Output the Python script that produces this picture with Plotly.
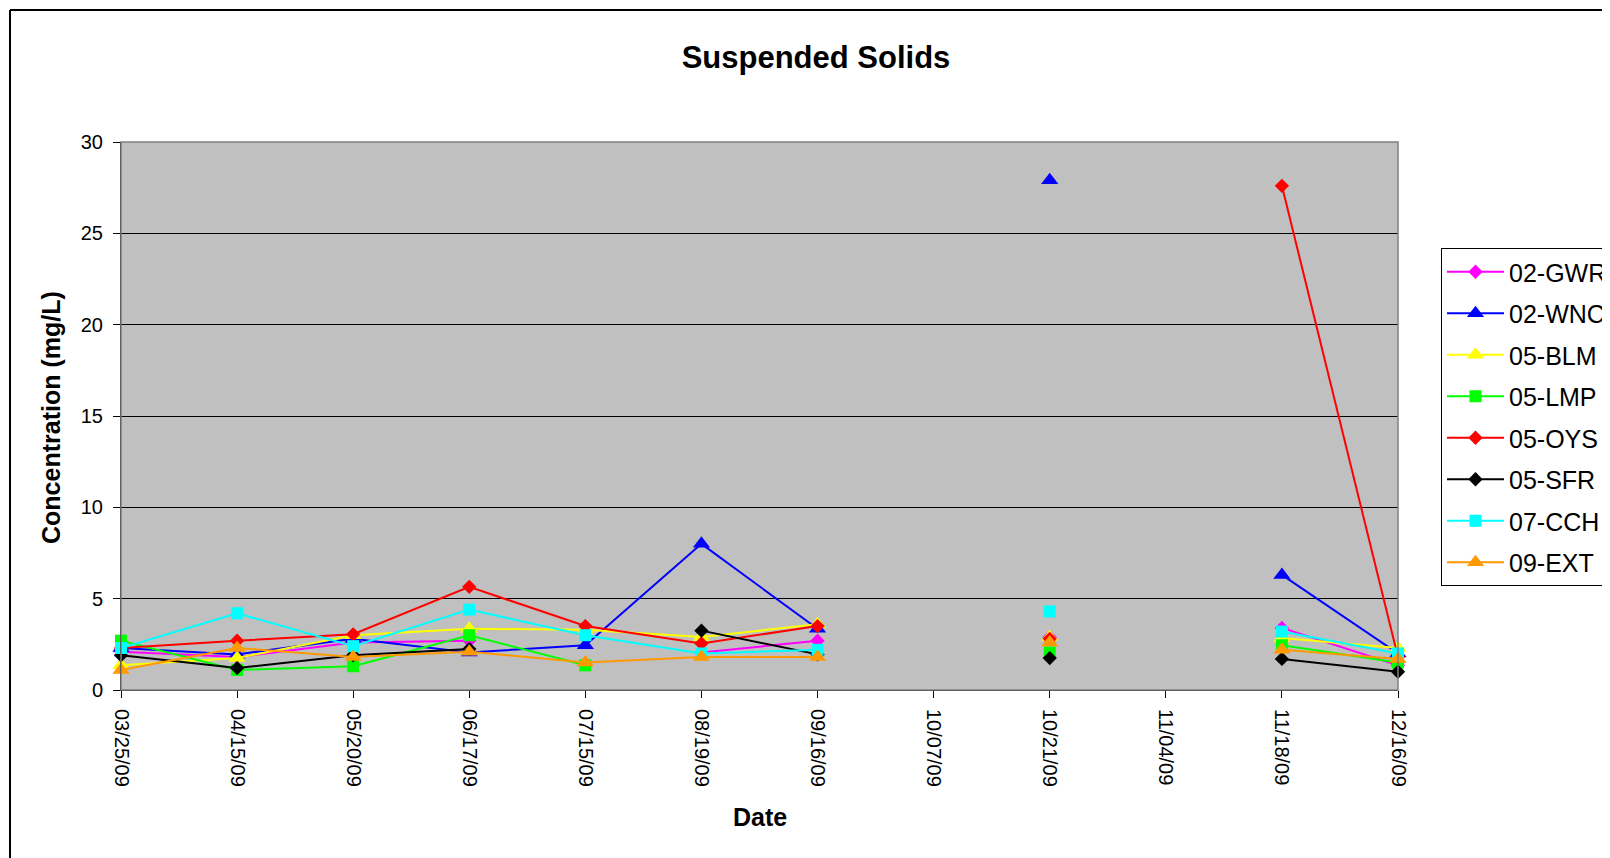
import plotly.graph_objects as go

dates = ["03/25/09", "04/15/09", "05/20/09", "06/17/09", "07/15/09", "08/19/09",
         "09/16/09", "10/07/09", "10/21/09", "11/04/09", "11/18/09", "12/16/09"]

gwr_02 = [2.1, 1.8, 2.6, 2.7, None, 2.05, 2.7, None, 2.9, None, 3.4, 1.35]
wnc_02 = [2.3, 1.95, 2.8, 2.05, 2.45, 8.0, 3.35, None, 27.9, None, 6.3, 2.0]
blm_05 = [1.35, 1.75, 3.0, 3.35, 3.3, 2.9, 3.6, None, 2.9, None, 2.85, 2.3]
lmp_05 = [2.7, 1.1, 1.3, 3.0, 1.35, None, None, None, 2.05, None, 2.45, 1.5]
oys_05 = [2.3, 2.7, 3.05, 5.65, 3.5, 2.55, 3.5, None, 2.8, None, 27.6, 1.8]
sfr_05 = [1.9, 1.2, 1.9, 2.25, None, 3.25, 1.95, None, 1.75, None, 1.7, 1.0]
cch_07 = [2.3, 4.2, 2.4, 4.4, 3.0, 2.0, 2.2, None, 4.3, None, 3.2, 2.0]
ext_09 = [1.1, 2.3, 1.8, 2.1, 1.5, 1.8, 1.8, None, 2.6, None, 2.2, 1.7]

series = [
    ("02-GWR", gwr_02, "#FF00FF", "diamond", 11),
    ("02-WNC", wnc_02, "#0000FF", "triangle-up", 15),
    ("05-BLM", blm_05, "#FFFF00", "triangle-up", 15),
    ("05-LMP", lmp_05, "#00FF00", "square", 12),
    ("05-OYS", oys_05, "#FF0000", "diamond", 11),
    ("05-SFR", sfr_05, "#000000", "diamond", 11),
    ("07-CCH", cch_07, "#00FFFF", "square", 12),
    ("09-EXT", ext_09, "#FF9900", "triangle-up", 15),
]

FONT = "Liberation Sans, Arial, sans-serif"

fig = go.Figure()
for name, vals, color, sym, sz in series:
    fig.add_trace(go.Scatter(
        x=dates, y=vals, name=name, mode="lines+markers",
        line=dict(color=color, width=2),
        marker=dict(color=color, symbol=sym, size=sz, line=dict(width=0)),
        connectgaps=False, cliponaxis=False, legendgroup=name,
    ))

OFF = 8  # page body margin
W, H = 1610, 858
L, R, T, B = 121 - OFF, 1398 - OFF, 142 - OFF, 690 - OFF


def px_x(p):
    return (p - OFF - L) / (R - L)


def px_y(p):
    return (B - (p - OFF)) / (B - T)


fig.update_layout(
    width=W, height=H,
    margin=dict(l=L, r=W - R, t=T, b=H - B, autoexpand=False),
    paper_bgcolor="white", plot_bgcolor="#C0C0C0",
    font=dict(family=FONT, color="black"),
    title=dict(text="<b>Suspended Solids</b>", x=px_x(816), xref="paper", xanchor="center",
               y=1 - (57 - OFF) / H, yanchor="middle", font=dict(size=31, family=FONT)),
    showlegend=True,
    legend=dict(x=px_x(1441), y=px_y(248), xanchor="left", yanchor="top",
                bgcolor="white", bordercolor="black", borderwidth=1,
                font=dict(size=25, family=FONT), tracegroupgap=6,
                traceorder="grouped", itemwidth=57),
    xaxis=dict(type="category", range=[0, 11], showgrid=False, tickangle=90,
               ticks="outside", ticklen=7, tickcolor="black", showline=True,
               linecolor="black", linewidth=1, tickfont=dict(size=20, family=FONT),
               ticklabelstandoff=7, zeroline=False),
    yaxis=dict(range=[0, 30], dtick=5, showgrid=True, gridcolor="black", gridwidth=1,
               ticks="outside", ticklen=7, tickcolor="black", showline=True,
               linecolor="black", linewidth=1, tickfont=dict(size=20, family=FONT),
               ticklabelstandoff=6, zeroline=False),
    annotations=[
        dict(text="<b>Date</b>", xref="paper", yref="paper", x=px_x(760), y=px_y(817),
             xanchor="center", yanchor="middle", showarrow=False,
             font=dict(size=25, family=FONT)),
        dict(text="<b>Concentration (mg/L)</b>", xref="paper", yref="paper",
             x=px_x(51), y=px_y(418), xanchor="center", yanchor="middle",
             showarrow=False, textangle=-90, font=dict(size=25, family=FONT)),
    ],
    shapes=[
        dict(type="rect", xref="paper", yref="paper", x0=0, x1=1, y0=0, y1=1,
             line=dict(color="#808080", width=1.5), layer="above"),
        dict(type="line", xref="paper", yref="paper", x0=px_x(10), x1=px_x(1700),
             y0=px_y(10), y1=px_y(10), line=dict(color="black", width=2)),
        dict(type="line", xref="paper", yref="paper", x0=px_x(10), x1=px_x(10),
             y0=px_y(10), y1=px_y(900), line=dict(color="black", width=2)),
    ],
)

fig.write_html("out.html")
